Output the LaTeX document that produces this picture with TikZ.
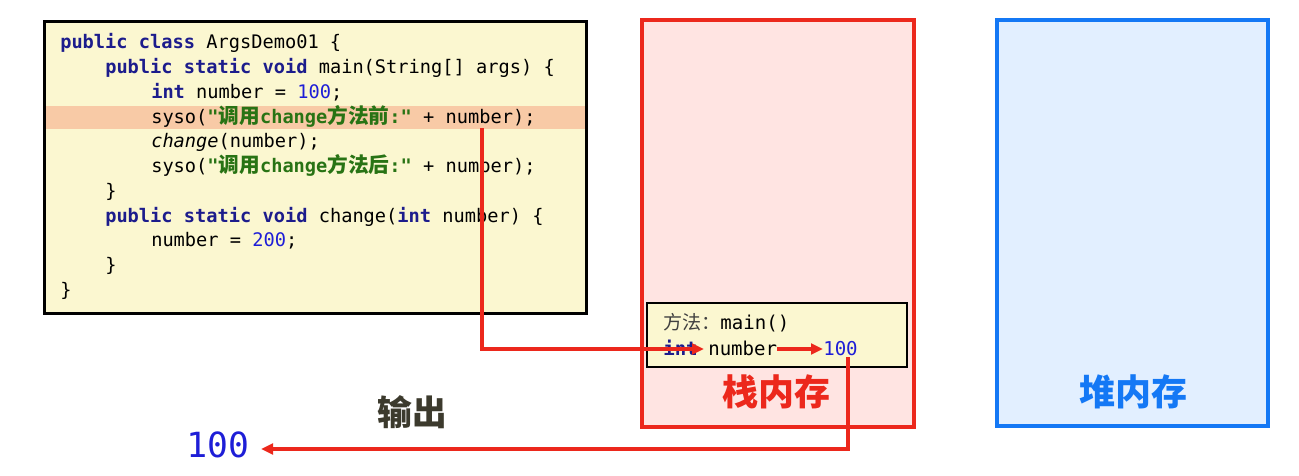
\documentclass[tikz,border=0pt]{standalone}
\usepackage{fontspec}
\setmonofont{DejaVu Sans Mono}
\newfontfamily\cjk{Noto Sans CJK SC}
\usetikzlibrary{arrows.meta}
\definecolor{kw}{RGB}{28,28,140}
\definecolor{numc}{RGB}{30,30,215}
\definecolor{strc}{RGB}{40,115,20}
\definecolor{codebg}{RGB}{251,247,208}
\definecolor{hl}{RGB}{248,202,166}
\definecolor{stackbg}{RGB}{255,228,226}
\definecolor{redc}{RGB}{236,40,28}
\definecolor{bluec}{RGB}{20,120,245}
\definecolor{heapbg}{RGB}{226,239,255}
\definecolor{outc}{RGB}{60,58,45}
\newcommand{\kwd}[1]{\textcolor{kw}{\bfseries #1}}
\newcommand{\nm}[1]{\textcolor{numc}{#1}}
\newcommand{\zhc}[1]{{\cjk\bfseries\fontsize{15.5}{17}\selectfont #1}}
\begin{document}
\begin{tikzpicture}[x=0.75pt,y=-0.75pt,
  codeline/.style={anchor=base west,inner sep=0pt,font=\ttfamily\fontsize{14}{16}\selectfont},
  frameline/.style={anchor=base west,inner sep=0pt,font=\ttfamily\fontsize{14.3}{16}\selectfont},
  redarrow/.style={draw=redc,line width=2.6pt,-{Triangle[length=9pt,width=8pt]}},
  biglabel/.style={inner sep=0pt,font=\cjk\bfseries\fontsize{27}{30}\selectfont}]
\useasboundingbox (0,0) rectangle (1299,475);
\fill[white] (0,0) rectangle (1299,475);
% code box
\node (code) [draw=black,line width=1.8pt,fill=codebg,minimum width=405.75pt,minimum height=218.25pt,inner sep=0pt] at (315.5,167.5) {};
\fill[hl] (46,106) rectangle (585,129);
\draw[black,line width=1.8pt] (code.south west) rectangle (code.north east);
\node (l1) [codeline] at (60,48) {\kwd{public} \kwd{class} ArgsDemo01 \{};
\node (l2) [codeline] at (105,73) {\kwd{public} \kwd{static} \kwd{void} main(String[] args) \{};
\node (l3) [codeline] at (151,98) {\kwd{int} number = \nm{100};};
\node (l4) [codeline] at (151,123) {syso(\textcolor{strc}{\bfseries"\zhc{调用}change\zhc{方法前}:"} + number);};
\node (l5) [codeline] at (151,147) {\textit{change}(number);};
\node (l6) [codeline] at (151,172) {syso(\textcolor{strc}{\bfseries"\zhc{调用}change\zhc{方法后}:"} + number);};
\node (l7) [codeline] at (105,197) {\}};
\node (l8) [codeline] at (105,222) {\kwd{public} \kwd{static} \kwd{void} change(\kwd{int} number) \{};
\node (l9) [codeline] at (151,246) {number = \nm{200};};
\node (l10) [codeline] at (105,271) {\}};
\node (l11) [codeline] at (60,296) {\}};
% stack
\node (stack) [draw=redc,line width=3.4pt,fill=stackbg,minimum width=204pt,minimum height=305.25pt,inner sep=0pt] at (778,223.5) {};
\node (frame) [draw=black,line width=1.5pt,fill=codebg,minimum width=195pt,minimum height=48pt,inner sep=0pt] at (777,335) {};
\node (f1) [frameline] at (663,329) {{\cjk\color{black!75}方法：}main()};
\node (fint) [frameline] at (663,355) {\kwd{int}};
\node (fnum) [frameline] at (708,355) {number};
\node (fval) [frameline] at (823,355) {\nm{100}};
\node (stacklbl) [biglabel,text=redc] at (776,392) {栈内存};
% heap
\node (heap) [draw=bluec,line width=3.2pt,fill=heapbg,minimum width=203.25pt,minimum height=304.5pt,inner sep=0pt] at (1132.5,223) {};
\node (heaplbl) [biglabel,text=bluec] at (1133,392) {堆内存};
% output
\node (outlbl) [biglabel,text=outc,font=\cjk\bfseries\fontsize{26}{29}\selectfont] at (412,412) {输出};
\node (out) [anchor=base west,inner sep=0pt,font=\ttfamily\fontsize{26}{29}\selectfont,text=numc] at (186,457) {100};
% arrows
\coordinate (a0) at (482,128);
\coordinate (a1) at (704,349);
\draw[redarrow] (a0) |- (a1);
\draw[redarrow] (fnum.east |- a1) -- (fval.west |- a1);
\coordinate (b0) at (848,357);
\coordinate (b1) at (848,449);
\coordinate (b2) at (261,449);
\draw[redarrow] (b0) -- (b1) -- (b2);
\end{tikzpicture}
\end{document}
